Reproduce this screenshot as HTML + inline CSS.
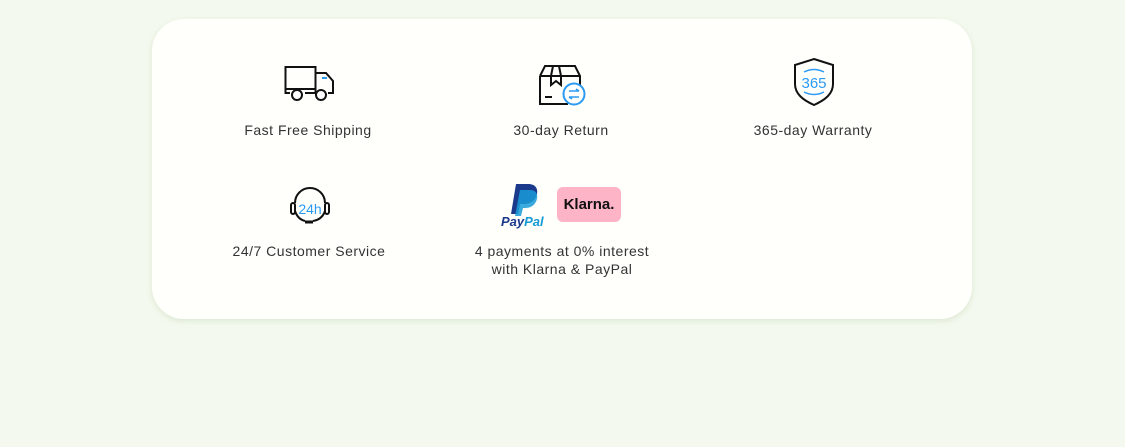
<!DOCTYPE html>
<html><head><meta charset="utf-8"><style>
html,body{margin:0;padding:0;width:1125px;height:447px;background:#f3f9ee;overflow:hidden;font-family:"Liberation Sans",sans-serif;}
.card{position:absolute;left:152px;top:19px;width:820px;height:300px;background:#fffffc;border-radius:32px;box-shadow:0 2px 6px rgba(180,200,160,0.35);}
.t{position:absolute;font-size:14px;letter-spacing:0.5px;color:#333;text-align:center;width:240px;line-height:18px;}
svg{position:absolute;overflow:visible}
</style></head><body>
<div class="card"></div>
<svg style="left:284px;top:65px" width="52" height="38" viewBox="0 0 52 38">
<g fill="none" stroke="#111" stroke-width="2">
<rect x="1.5" y="2" width="30" height="22"/>
<path d="M31.5 8 H42 L49 16 V28 H44 M31.5 24 V28 H21"/>
<path d="M1.5 24 V28 H6"/>
<circle cx="13" cy="30" r="5" fill="#fff"/><circle cx="37" cy="30" r="5" fill="#fff"/>
</g>
<line x1="38" y1="13" x2="43" y2="13" stroke="#2b9af3" stroke-width="2"/>
</svg>
<div class="t" style="left:188px;top:121px">Fast Free Shipping</div>
<svg style="left:538px;top:64px" width="50" height="44" viewBox="0 0 50 44">
<g fill="none" stroke="#111" stroke-width="2">
<path d="M2 12 L7 2 H37 L42 12 V28 M2 12 H42 M2 12 V40 H30"/>
<path d="M15 2 L13 12 V21 L18 17 L23 21 V12 L21 2"/>
<line x1="7" y1="33" x2="14" y2="33"/>
</g>
<circle cx="36" cy="30" r="10.5" fill="#fff" stroke="#2b9af3" stroke-width="2"/>
<g stroke="#2b9af3" stroke-width="1.6" fill="none"><path d="M31 27 H41 M38 25 L41 27"/><path d="M31 33 H41 M34 35 L31 33"/></g>
</svg>
<div class="t" style="left:441px;top:121px">30-day Return</div>
<svg style="left:793px;top:58px" width="44" height="48" viewBox="0 0 44 48">
<path d="M21 1 L40 7 V26 C40 36 32 42 21 47 C10 42 2 36 2 26 V7 Z" fill="none" stroke="#111" stroke-width="2"/>
<text x="21" y="30" font-size="15" fill="#2b9af3" text-anchor="middle" font-family="Liberation Sans Narrow,Liberation Sans,sans-serif">365</text>
<path d="M11 14 Q21 9 31 14 M31 34 Q21 39 11 34" fill="none" stroke="#2b9af3" stroke-width="1.5"/>
</svg>
<div class="t" style="left:693px;top:121px">365-day Warranty</div>
<svg style="left:289px;top:185px" width="44" height="42" viewBox="0 0 44 42">
<g fill="none" stroke="#111" stroke-width="2">
<path d="M6 18 A15 15 0 0 1 36 18"/>
<rect x="2" y="18" width="4" height="11" rx="2"/><rect x="36" y="18" width="4" height="11" rx="2"/>
<path d="M6 26 C8 32 12 35 16 36 M36 26 C34 32 30 35 24 36"/>
</g>
<line x1="16" y1="37" x2="24" y2="37" stroke="#111" stroke-width="3"/>
<text x="21" y="29" font-size="14" fill="#2b9af3" text-anchor="middle" font-family="Liberation Sans Narrow,Liberation Sans,sans-serif">24h</text>
</svg>
<div class="t" style="left:189px;top:242px">24/7 Customer Service</div>
<svg style="left:500px;top:182px" width="50" height="46" viewBox="0 0 50 46">
<path d="M16 2 H28 C36 2 38 7 37 12 C35 20 29 22 23 22 H20 L18 32 H11 Z" fill="#1b3a8c"/>
<path d="M20 8 H30 C36 8 38 12 37 17 C35 24 30 26 25 26 H23 L21 34 H15 Z" fill="#179bd7" opacity="0.85"/>
<text x="1" y="44" font-size="13" font-weight="bold" font-style="italic" fill="#1b3a8c" font-family="Liberation Sans,sans-serif">Pay<tspan fill="#179bd7">Pal</tspan></text>
</svg>
<div style="position:absolute;left:557px;top:187px;width:64px;height:35px;background:#feb4c7;border-radius:6px;font-weight:bold;font-size:15px;line-height:35px;text-align:center;color:#111;">Klarna.</div>
<div class="t" style="left:442px;top:242px">4 payments at 0% interest<br>with Klarna &amp; PayPal</div>
</body></html>
